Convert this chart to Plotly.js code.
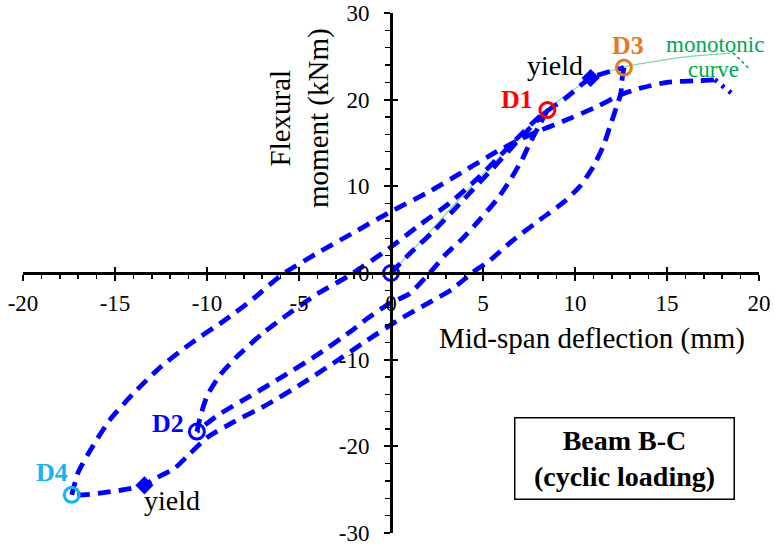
<!DOCTYPE html>
<html><head><meta charset="utf-8">
<script src="https://cdn.plot.ly/plotly-3.0.1.min.js"></script>
<style>html,body{margin:0;padding:0;background:#fff}</style>
</head><body>
<div id="chart" style="width:774px;height:546px"></div>
<script>
// Branches of the cyclic moment–deflection curve (deflection mm, moment kNm)
const load1X = [0, 1.0, 2.3, 4.0, 5.5, 7.0, 8.5];
const load1Y = [0, 2.2, 4.8, 8.6, 12.0, 15.5, 18.8];
const unload1X = [8.5, 8.1, 7.6, 7.1, 6.5, 5.8, 4.8, 3.9, 3.0, 2.1, 1.0, -0.15, -1.32, -2.23, -4.04, -5.85, -7.66, -9.47, -10.55];
const unload1Y = [18.8, 17.2, 15.2, 13.0, 10.8, 8.6, 6.1, 4.0, 2.2, 0, -2.4, -3.6, -5.3, -6.8, -9.5, -11.9, -14.2, -16.5, -18.3];
const reload2X = [-10.55, -10.35, -10.0, -9.3, -8.3, -7.0, -5.5, -4.0, -2.2, 0, 1.4, 3.2, 4.8, 6.6, 8.1, 9.5, 10.85, 12.66];
const reload2Y = [-18.3, -16.5, -14.2, -11.8, -9.5, -7.0, -4.6, -2.4, -0.2, 3.0, 5.3, 8.1, 11.1, 15.0, 18.1, 20.2, 22.5, 23.7];
const unload3X = [12.66, 12.53, 12.5, 12.26, 11.9, 11.53, 11.0, 10.27, 9.4, 8.1, 6.64, 5.4, 4.4, 3.3, 2.0, 0.5, -1.32, -3.13, -4.94, -6.75, -8.57, -10.0, -11.0, -11.8, -12.9, -13.4, -14.5, -15.8, -16.7, -17.35];
const unload3Y = [23.7, 21.9, 20.8, 19.2, 16.9, 14.6, 12.3, 10.0, 8.2, 6.15, 3.8, 1.5, 0, -1.9, -3.5, -5.3, -7.8, -10.4, -12.9, -15.2, -17.2, -19.0, -21.0, -22.6, -23.8, -24.5, -25.0, -25.4, -25.6, -25.6];
const reload4X = [-17.35, -17.0, -16.3, -15.3, -14.0, -12.5, -10.8, -9.0, -7.5, -6.0, -4.0, -2.0, 0, 2.1, 4.0, 5.74, 7.0, 8.27, 9.35, 11.2, 12.4, 13.5, 15.0, 16.8, 17.6];
const reload4Y = [-25.6, -23.0, -20.3, -17.0, -13.9, -10.8, -8.0, -5.4, -3.0, -0.3, 2.3, 4.7, 7.1, 9.4, 11.8, 14.0, 15.4, 16.6, 17.5, 19.2, 20.5, 21.3, 22.0, 22.2, 22.3];
const tailX = [17.6, 18.1, 18.7];
const tailY = [22.3, 21.5, 20.4];
// Monotonic curve
const monoX = [0, 2, 4, 6, 8.5, 9.5, 10.9, 12.7, 15.9, 18.6];
const monoY = [0, 4.5, 9.2, 13.6, 18.8, 20.5, 22.5, 23.8, 24.9, 25.4];
const leaderX = [18.6, 19.5];
const leaderY = [25.4, 23.5];
// Marked points
const pointNames = ['O', 'D1', 'D2', 'D3', 'D4'];
const pointX = [0, 8.5, -10.55, 12.66, -17.35];
const pointY = [0, 18.8, -18.3, 23.7, -25.6];
const pointColors = ['#0000ff', '#ff0000', '#0000ff', '#e8781e', '#16b4ea'];
const yieldX = [10.85, -13.4];
const yieldY = [22.5, -24.5];
// Axis ticks
const xTicks = [-20, -15, -10, -5, 0, 5, 10, 15, 20];
const yTicks = [-30, -20, -10, 0, 10, 20, 30];

const blue = '#0000ff';
const dashLine = {color: blue, width: 4.8, dash: '13px,8px', shape: 'spline', smoothing: 0.6};
function branch(x, y, line) {
  return {x: x, y: y, mode: 'lines', line: line, showlegend: false, hoverinfo: 'skip'};
}
const traces = [
  {x: monoX, y: monoY, mode: 'lines', line: {color: '#7fd8a8', width: 1.2, shape: 'spline', smoothing: 0.6}, showlegend: false, hoverinfo: 'skip'},
  {x: leaderX, y: leaderY, mode: 'lines', line: {color: '#00a050', width: 1.5, dash: 'dot'}, showlegend: false, hoverinfo: 'skip'},
  branch(load1X, load1Y, dashLine),
  branch(unload1X, unload1Y, dashLine),
  branch(reload2X, reload2Y, dashLine),
  branch(unload3X, unload3Y, dashLine),
  branch(reload4X, reload4Y, dashLine),
  branch(tailX, tailY, {color: blue, width: 4.8, dash: '3px,6px'}),
  {x: yieldX, y: yieldY, mode: 'markers', marker: {symbol: 'diamond', size: 14, color: blue}, showlegend: false, hoverinfo: 'skip'},
  {x: pointX, y: pointY, text: pointNames, mode: 'markers', marker: {symbol: 'circle-open', size: 15, color: pointColors, line: {width: 3, color: pointColors}}, showlegend: false, hoverinfo: 'skip'},
  {x: [null], y: [null], xaxis: 'x2', yaxis: 'y2', mode: 'markers', showlegend: false, hoverinfo: 'skip'}
];

const serif = 'Liberation Serif';
const axBase = {showgrid: false, zeroline: false, anchor: 'free', position: 0.5, fixedrange: true};
const layout = {
  width: 774, height: 546,
  margin: {l: 23, r: 15, t: 13, b: 13},
  paper_bgcolor: '#fff', plot_bgcolor: '#fff',
  font: {family: serif, color: '#000', size: 23},
  xaxis: Object.assign({}, axBase, {
    range: [-20, 20], tickvals: xTicks, ticktext: xTicks.map(String),
    showline: true, linecolor: '#000', linewidth: 2.6,
    ticks: 'outside', ticklen: 6, tickwidth: 2.2, tickcolor: '#000',
    ticklabelstandoff: 3, ticklabeloverflow: 'allow',
    tickfont: {family: serif, size: 23, color: '#000'},
    minor: {dtick: 1, ticks: 'outside', ticklen: 4, tickwidth: 1.6, tickcolor: '#000'}
  }),
  yaxis: Object.assign({}, axBase, {
    range: [-30, 30], tickvals: yTicks, ticktext: yTicks.map(String),
    showline: true, linecolor: '#000', linewidth: 2.6,
    ticks: 'outside', ticklen: 6, tickwidth: 2.2, tickcolor: '#000',
    ticklabelstandoff: 10, ticklabeloverflow: 'allow',
    tickfont: {family: serif, size: 23, color: '#000'},
    minor: {dtick: 2, ticks: 'outside', ticklen: 5, tickwidth: 1.6, tickcolor: '#000'}
  }),
  xaxis2: Object.assign({}, axBase, {
    overlaying: 'x', range: [-20, 20], tickvals: xTicks, showticklabels: false,
    showline: false, ticks: 'inside', ticklen: 6, tickwidth: 2.2, tickcolor: '#000'
  }),
  yaxis2: Object.assign({}, axBase, {
    overlaying: 'y', range: [-30, 30], tickvals: yTicks, showticklabels: false,
    showline: false, ticks: 'inside', ticklen: 6, tickwidth: 2.2, tickcolor: '#000'
  }),
  annotations: [
    {x: 10.9, y: -7.5, text: 'Mid-span deflection (mm)', showarrow: false, font: {family: serif, size: 29, color: '#000'}},
    {x: -4.94, y: 17.9, text: 'Flexural<br>moment (kNm)', textangle: -90, showarrow: false, font: {family: serif, size: 29, color: '#000'}},
    {x: 6.85, y: 20.0, text: '<b>D1</b>', showarrow: false, font: {family: serif, size: 26, color: '#ff0000'}},
    {x: -12.1, y: -17.4, text: '<b>D2</b>', showarrow: false, font: {family: serif, size: 26, color: '#0000ff'}},
    {x: 12.9, y: 26.2, text: '<b>D3</b>', showarrow: false, font: {family: serif, size: 26, color: '#e8781e'}},
    {x: -18.4, y: -23.0, text: '<b>D4</b>', showarrow: false, font: {family: serif, size: 26, color: '#16b4ea'}},
    {x: 8.9, y: 24.0, text: 'yield', showarrow: false, font: {family: serif, size: 28, color: '#000'}},
    {x: -11.9, y: -26.2, text: 'yield', showarrow: false, font: {family: serif, size: 28, color: '#000'}},
    {x: 17.6, y: 26.4, text: 'monotonic', showarrow: false, font: {family: serif, size: 23, color: '#00a850'}},
    {x: 17.5, y: 23.5, text: 'curve', showarrow: false, font: {family: serif, size: 23, color: '#00a850'}},
    {x: 12.71, y: -21.43, text: '<b>Beam B-C</b><br><b>(cyclic loading)</b>', showarrow: false,
     font: {family: serif, size: 28, color: '#000'}, bordercolor: '#000', borderwidth: 1.5,
     width: 216, height: 78, bgcolor: '#fff', align: 'center'}
  ]
};
Plotly.newPlot('chart', traces, layout, {staticPlot: true, displayModeBar: false});
</script>
</body></html>
